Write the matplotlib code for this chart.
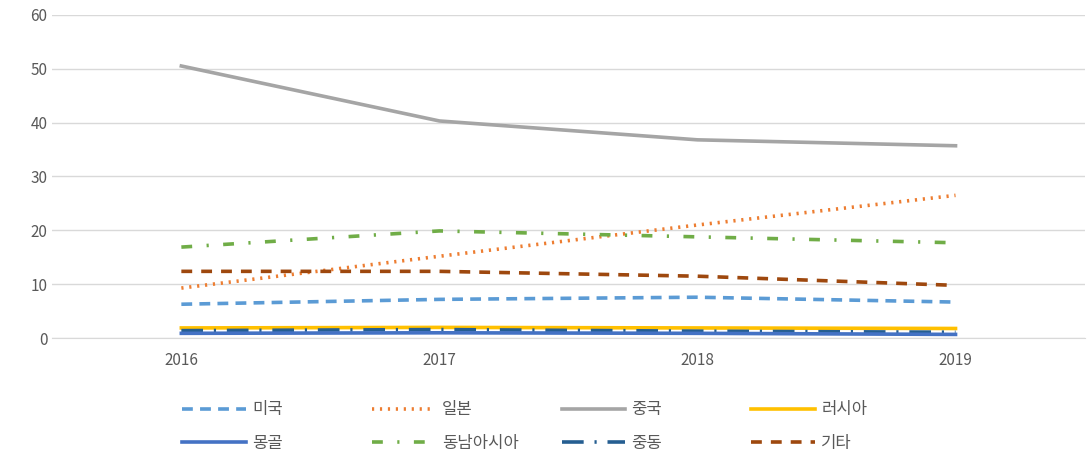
import matplotlib.pyplot as plt
import numpy as np

plt.rcParams['font.family'] = ['Noto Sans CJK KR', 'DejaVu Sans']

years = ['2016', '2017', '2018', '2019']
usa = [6.3, 7.2, 7.6, 6.7]
japan = [9.3, 15.2, 21.0, 26.5]
china = [50.5, 40.3, 36.8, 35.7]
russia = [1.9, 2.0, 1.9, 1.8]
mongolia = [0.9, 1.0, 0.9, 0.7]
sea = [16.9, 19.9, 18.8, 17.7]
mideast = [1.4, 1.6, 1.3, 1.1]
other = [12.4, 12.4, 11.5, 9.8]

names = ['미국', '일본', '중국', '러시아', '몽골', '동남아시아', '중동', '기타']
series = [usa, japan, china, russia, mongolia, sea, mideast, other]
colors = ['#5B9BD5', '#ED7D31', '#A5A5A5', '#FFC000',
          '#4472C4', '#70AD47', '#255E91', '#9E480E']
styles = [(0, (3, 2)), (0, (0.6, 1.6)), '-', '-',
          '-', (0, (3, 4, 0.6, 4)), (0, (6, 3, 0.6, 3)), (0, (3, 2.5))]

fig = plt.figure(figsize=(10.9, 4.62), dpi=100)
ax = fig.add_axes([0.048, 0.268, 0.947, 0.700])

x = np.arange(len(years))
order = [2, 1, 5, 7, 0, 3, 6, 4]
lines = {}
for i in order:
    ln, = ax.plot(x, series[i], color=colors[i], linestyle=styles[i],
                  lw=2.6, label=names[i], zorder=3)
    lines[i] = ln

ax.set_xlim(-0.5, 3.5)
ax.set_ylim(0, 60)
ax.set_yticks(range(0, 61, 10))
ax.set_xticks(x)
ax.set_xticklabels(years)
ax.grid(axis='y', color='#D9D9D9', lw=1)
ax.set_axisbelow(True)
for s in ['top', 'right', 'left']:
    ax.spines[s].set_visible(False)
ax.spines['bottom'].set_color('#D9D9D9')
ax.tick_params(length=0, colors='#595959', labelsize=11)
ax.tick_params(axis='x', pad=10)

# one legend per column so the columns sit at fixed positions
col_x = [0.158, 0.332, 0.506, 0.680]
for c in range(4):
    leg = fig.legend([lines[c], lines[c + 4]], [names[c], names[c + 4]],
                     loc='lower left', bbox_to_anchor=(col_x[c], 0.0),
                     frameon=False, fontsize=12, handlelength=3.8,
                     handletextpad=0.4, labelcolor='#595959',
                     labelspacing=1.0, borderaxespad=0.2)

fig.savefig('out.png', dpi=100)
